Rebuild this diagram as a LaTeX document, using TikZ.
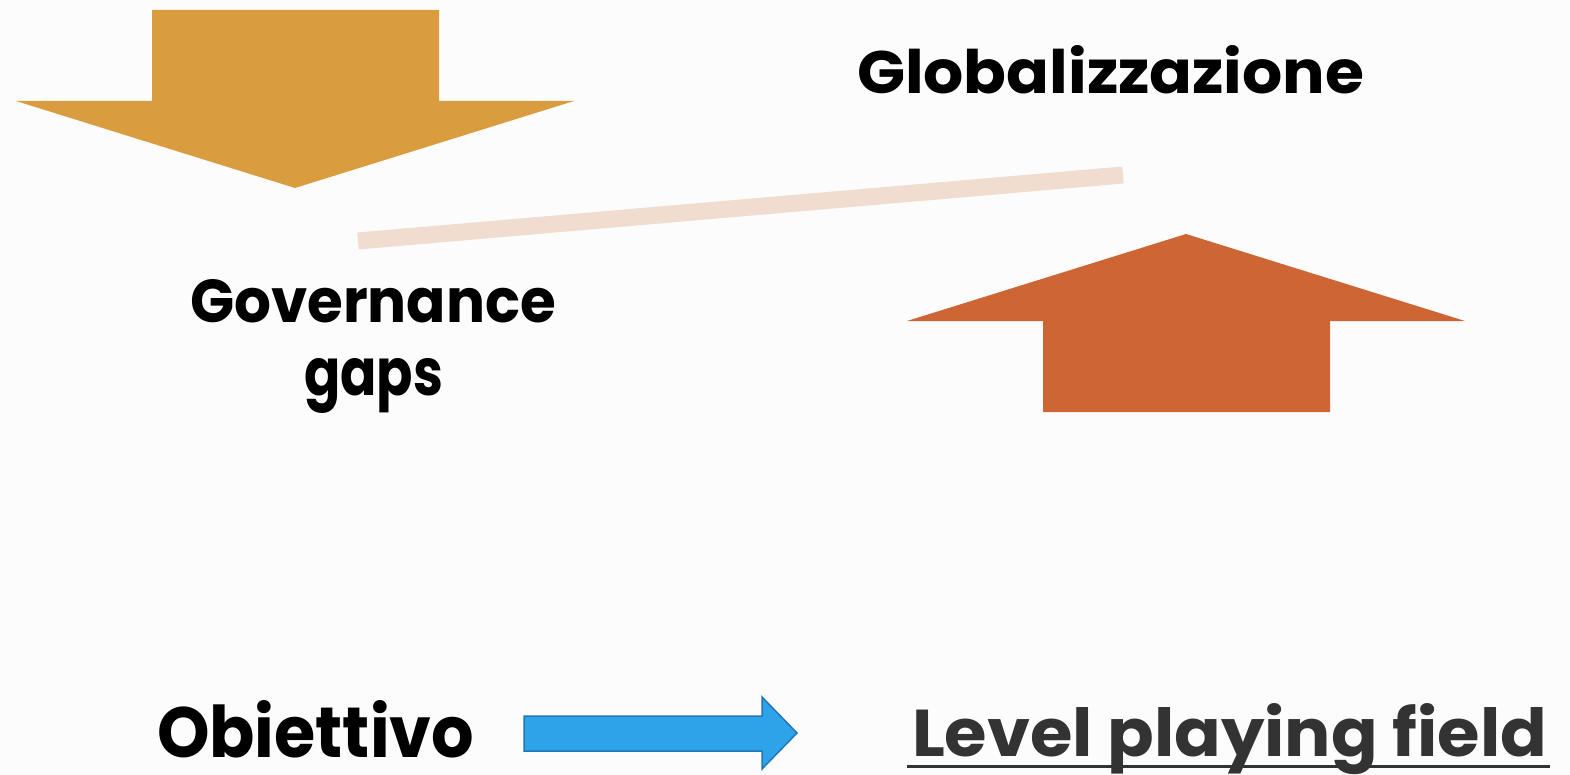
\documentclass[tikz,border=0pt]{standalone}
\usepackage{fontspec}
\usepackage{graphicx}
\setmainfont{Poppins}
\definecolor{bgc}{HTML}{FCFCFC}
\definecolor{gold}{HTML}{D99D3F}
\definecolor{rust}{HTML}{CD6634}
\definecolor{beam}{HTML}{F0DDD0}
\definecolor{bluef}{HTML}{2EA3EA}
\definecolor{blued}{HTML}{2277B5}
\definecolor{txtgray}{HTML}{333333}
\begin{document}
\begin{tikzpicture}[x=1pt,y=-1pt,
  lbl/.style={inner sep=0pt, outer sep=0pt, anchor=base west, font=\bfseries}]
\fill[bgc] (0,0) rectangle (1570,775);
\useasboundingbox (0,0) rectangle (1570,775);
% down arrow (gold)
\fill[gold] (152,10) -- (439,10) -- (439,101) -- (574,101) -- (295,188) -- (16,101) -- (152,101) -- cycle;
% up arrow (rust)
\fill[rust] (1043,412) -- (1330,412) -- (1330,321) -- (1465,321) -- (1186,234) -- (907,321) -- (1043,321) -- cycle;
% beam
\coordinate (bl) at (358,241);
\coordinate (br) at (1123,175);
\draw[beam, line width=17pt] (bl) -- (br);
% texts
\node[lbl] (glob) at (857,94) {\resizebox{507pt}{48pt}{Globalizzazione}};
\node[lbl] (gov) at (190,323) {\resizebox{366pt}{43pt}{Governance}};
\node[lbl] (gaps) at (304,395) {\resizebox{139pt}{37pt}{gaps}};
\node[lbl] (obj) at (157,757) {\resizebox{317pt}{57pt}{Obiettivo}};
\node[lbl, text=txtgray] (lpf) at (912,756) {\resizebox{635pt}{53pt}{Level playing field}};
\draw[txtgray, line width=3pt] ([xshift=-5pt,yshift=-10pt]lpf.base west) -- ([xshift=3pt,yshift=-10pt]lpf.base east);
% blue arrow
\filldraw[fill=bluef, draw=blued, line width=1.5pt, line join=miter]
  (524,716) -- (762,716) -- (762,697) -- (797,733) -- (762,769) -- (762,751) -- (524,751) -- cycle;
\end{tikzpicture}
\end{document}
